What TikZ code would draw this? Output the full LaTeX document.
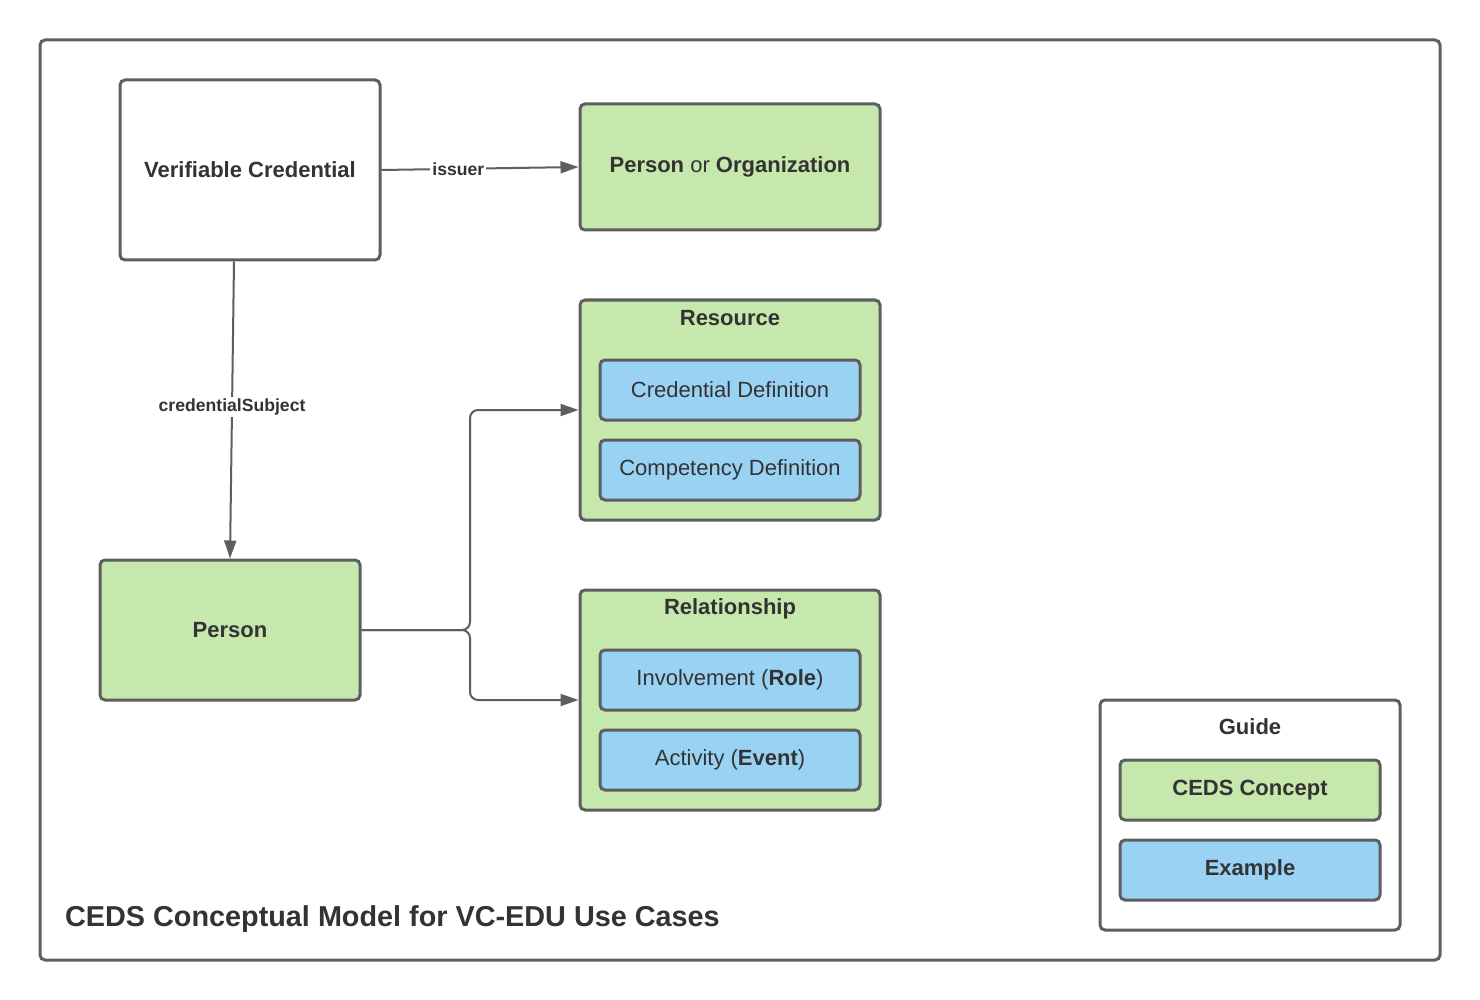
\documentclass[tikz,border=0pt]{standalone}
\usepackage{fontspec}
\setmainfont{Liberation Sans}
\usetikzlibrary{arrows.meta, positioning}

\definecolor{linegray}{HTML}{5E5E5E}
\definecolor{inkgray}{HTML}{333333}
\definecolor{cedsgreen}{HTML}{C7E8AC}
\definecolor{exblue}{HTML}{9AD2F3}

\begin{document}
\begin{tikzpicture}[x=1pt, y=-1pt, >={Triangle[length=18pt,width=12pt]},
            box/.style={draw=linegray, line width=3pt, rounded corners=5pt, text=inkgray,
                        font=\fontsize{22}{26}\selectfont, align=center},
            whitebox/.style={box, fill=white},
            greenbox/.style={box, fill=cedsgreen},
            bluebox/.style={box, fill=exblue, minimum width=260pt, minimum height=60pt},
            heading/.style={text=inkgray, font=\bfseries\fontsize{22}{26}\selectfont, inner sep=0pt},
            conn/.style={->, draw=linegray, line width=2pt},
            lbl/.style={fill=white, text=inkgray, font=\bfseries\fontsize{17.6}{20}\selectfont, inner sep=2pt}]

            \fill[white] (0,0) rectangle (1480,1000);
            \useasboundingbox (0,0) rectangle (1480,1000);

            \node[whitebox, minimum width=1400pt, minimum height=920pt] (frame) at (740,500) {};

            \node[whitebox, minimum width=260pt, minimum height=180pt] (vc) at (250,170) {\bfseries Verifiable Credential};
            \node[greenbox, minimum width=300pt, minimum height=126pt] (org) at (730,167) {\textbf{Person} or \textbf{Organization}};
            \node[greenbox, minimum width=260pt, minimum height=140pt] (person) at (230,630) {\bfseries Person};

            \node[greenbox, minimum width=300pt, minimum height=220pt] (res) at (730,410) {};
            \node[heading] (resT) at (730,318) {Resource};
            \node[bluebox] (cdef) at (730,390) {Credential Definition};
            \node[bluebox] (comp) at (730,470) {Competency Definition};

            \node[greenbox, minimum width=300pt, minimum height=220pt] (rel) at (730,700) {};
            \node[heading] (relT) at (730,609) {Relationship};
            \node[bluebox] (inv) at (730,680) {Involvement (\textbf{Role})};
            \node[bluebox] (act) at (730,760) {Activity (\textbf{Event})};

            \node[whitebox, minimum width=300pt, minimum height=230pt] (guide) at (1250,815) {};
            \node[heading] (guideT) at (1250,727) {Guide};
            \node[greenbox, minimum width=260pt, minimum height=60pt] (ceds) at (1250,790) {\bfseries CEDS Concept};
            \node[bluebox] (ex) at (1250,870) {\bfseries Example};

            \node[text=inkgray, font=\bfseries\fontsize{28.8}{32}\selectfont, inner sep=0pt, anchor=base west]
                (title) at (65,926) {CEDS Conceptual Model for VC-EDU Use Cases};

            \coordinate (split) at (470,630);

            \draw[conn] (vc.east) -- node[lbl, pos=0.39] {issuer} (org.west);
            \draw[conn] ([xshift=-16pt]vc.south) -- node[lbl, pos=0.49] {credentialSubject} (person.north);
            \draw[conn, rounded corners=8pt] (person.east) -- (split) |- (res.west);
            \draw[conn, rounded corners=8pt] (person.east) -- (split) |- (rel.west);

        \end{tikzpicture}
\end{document}
